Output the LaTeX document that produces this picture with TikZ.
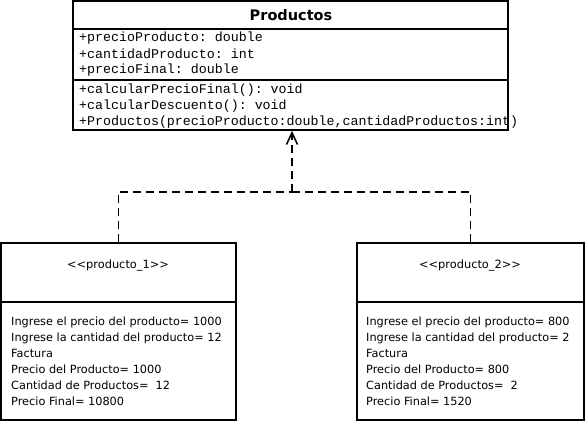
\documentclass[tikz,border=0pt]{standalone}
\usepackage{fontspec}
\setmainfont{DejaVu Sans}
\setmonofont{Liberation Mono}
\usetikzlibrary{arrows.meta}
\tikzset{
  caja/.style={draw, line width=1.5pt, inner sep=0pt},
  conector/.style={line width=1.5pt, dash pattern=on 8pt off 5pt},
  miembro/.style={anchor=west, inner sep=0pt, font=\ttfamily\fontsize{13.3}{16}\selectfont},
  salida/.style={anchor=north west, inner sep=0pt, align=left, font=\fontsize{11.3}{16}\selectfont},
}
\begin{document}
\begin{tikzpicture}[x=1pt, y=-1pt]
\useasboundingbox (0,0) rectangle (585,421);
% clase
\node[caja, minimum width=435pt, minimum height=129pt] (prod) at (290.5,65.5) {};
\node[font=\bfseries\fontsize{14.5}{16}\selectfont] (prod_t) at (291,15) {Productos};
\coordinate (sep_a) at (0,29);
\coordinate (sep_m) at (0,80);
\draw[line width=1.5pt] (prod.west |- sep_a) -- (prod.east |- sep_a);
\draw[line width=1.5pt] (prod.west |- sep_m) -- (prod.east |- sep_m);
\node[miembro] (a_1) at (79,38) {+precioProducto: double};
\node[miembro] (a_2) at (79,54) {+cantidadProducto: int};
\node[miembro] (a_3) at (79,70) {+precioFinal: double};
\node[miembro] (m_1) at (79,90) {+calcularPrecioFinal(): void};
\node[miembro] (m_2) at (79,106) {+calcularDescuento(): void};
\node[miembro] (m_3) at (79,122) {+Productos(precioProducto:double,cantidadProductos:int)};
% objetos
\node[caja, minimum width=235pt, minimum height=177pt] (p_1) at (118.5,331.5) {};
\node[caja, minimum width=227pt, minimum height=177pt] (p_2) at (470.5,331.5) {};
\coordinate (sep_o) at (0,302);
\draw[line width=1.5pt] (p_1.west |- sep_o) -- (p_1.east |- sep_o);
\draw[line width=1.5pt] (p_2.west |- sep_o) -- (p_2.east |- sep_o);
\node[font=\fontsize{11.4}{16}\selectfont] (p_1_t) at (118,266) {<{}<producto\_1>{}>};
\node[font=\fontsize{11.4}{16}\selectfont] (p_2_t) at (470,266) {<{}<producto\_2>{}>};
\node[salida] (p_1_b) at (11,317) {Ingrese el precio del producto= 1000\\Ingrese la cantidad del producto= 12\\Factura\\Precio del Producto= 1000\\Cantidad de Productos=~~12\\Precio Final= 10800};
\node[salida] (p_2_b) at (366,317) {Ingrese el precio del producto= 800\\Ingrese la cantidad del producto= 2\\Factura\\Precio del Producto= 800\\Cantidad de Productos=~~2\\Precio Final= 1520};
% realizacion
\coordinate (union) at (292,192);
\draw[conector] (p_1.north) |- (union);
\draw[conector] (p_2.north) |- (union);
\draw[conector, -{Straight Barb[length=12pt,width=11pt]}] (union) -- (union |- prod.south);
\end{tikzpicture}
\end{document}
